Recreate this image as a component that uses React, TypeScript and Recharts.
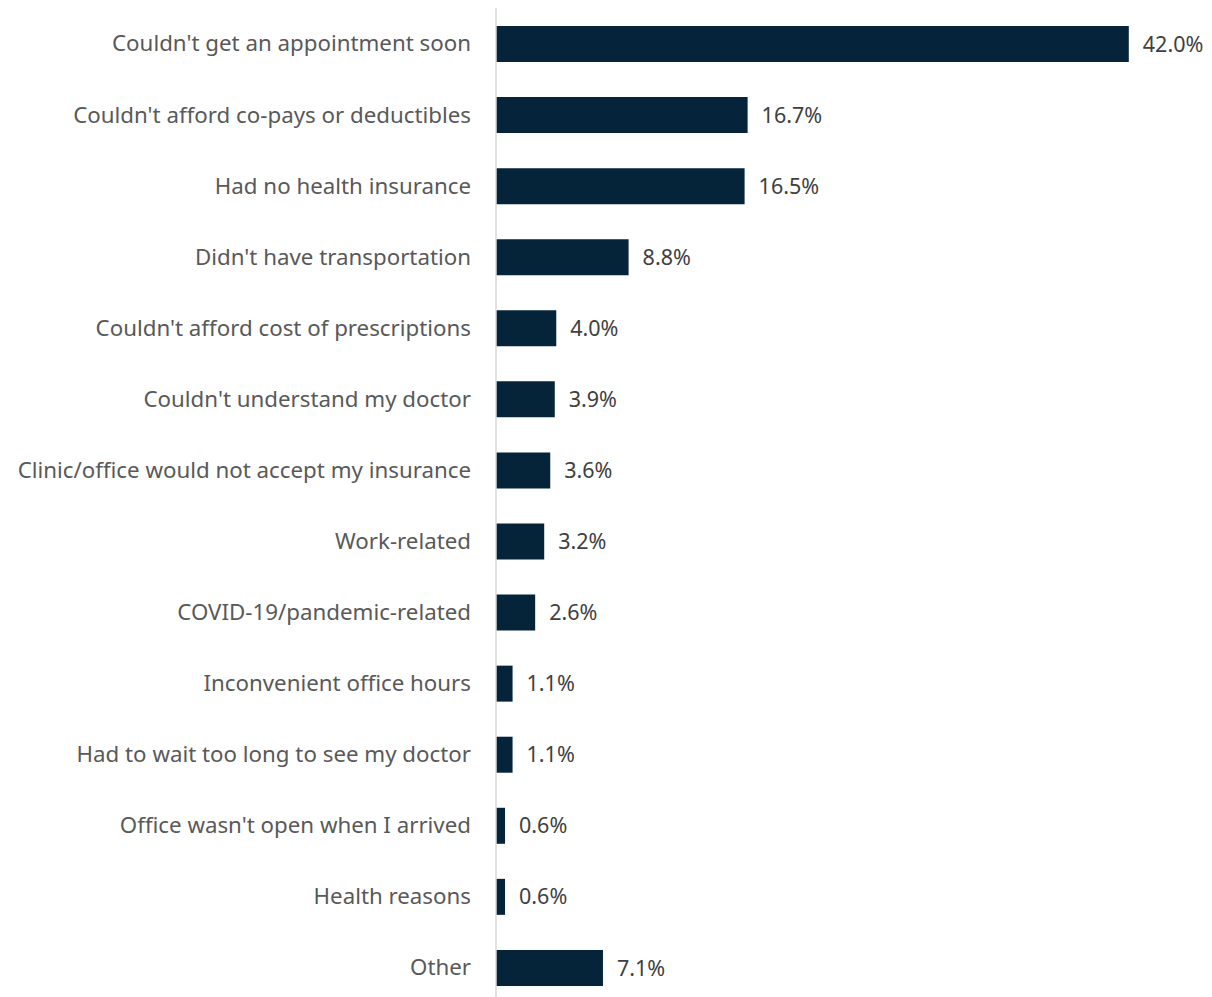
import { Bar, BarChart, LabelList, XAxis, YAxis } from 'recharts'

const reasons = [
  "Couldn't get an appointment soon",
  "Couldn't afford co-pays or deductibles",
  'Had no health insurance',
  "Didn't have transportation",
  "Couldn't afford cost of prescriptions",
  "Couldn't understand my doctor",
  'Clinic/office would not accept my insurance',
  'Work-related',
  'COVID-19/pandemic-related',
  'Inconvenient office hours',
  'Had to wait too long to see my doctor',
  "Office wasn't open when I arrived",
  'Health reasons',
  'Other',
]

const shares = [42.0, 16.7, 16.5, 8.8, 4.0, 3.9, 3.6, 3.2, 2.6, 1.1, 1.1, 0.6, 0.6, 7.1]

const data = reasons.map((name, i) => ({ name, value: shares[i] }))

const FONT = '"Noto Sans", sans-serif'

export default function App() {
  return (
    <div style={{ width: 1204, height: 995, fontFamily: FONT }}>
      <BarChart
        width={1204}
        height={995}
        data={data}
        layout="vertical"
        margin={{ top: 0, right: 38, bottom: 0, left: 0 }}
        barSize={36}
        style={{ overflow: 'visible' }}
      >
        <XAxis type="number" domain={[0, 45]} hide />
        <YAxis
          type="category"
          dataKey="name"
          width={488}
          tickLine={false}
          axisLine={{ stroke: '#d9d9d9', strokeWidth: 1.5 }}
          tickMargin={19}
          interval={0}
          tick={{ fill: '#595959', fontSize: 22.3, fontFamily: FONT }}
        />
        <Bar dataKey="value" fill="#05243a" isAnimationActive={false}>
          <LabelList
            dataKey="value"
            position="right"
            offset={14}
            formatter={(v: any) => `${Number(v).toFixed(1)}%`}
            style={{ fill: '#404040', fontSize: 21.5, fontFamily: FONT }}
          />
        </Bar>
      </BarChart>
    </div>
  )
}
